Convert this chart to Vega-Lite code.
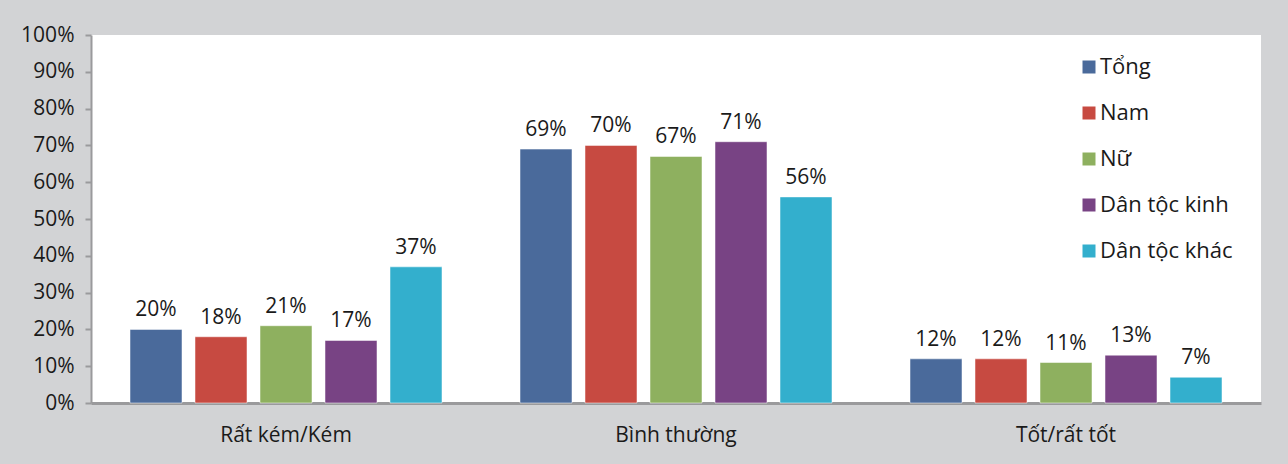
{
  "$schema": "https://vega.github.io/schema/vega-lite/v6.json",
  "width": 1170,
  "height": 368,
  "autosize": {"type": "none"},
  "padding": {"left": 91, "top": 35, "right": 27, "bottom": 61},
  "background": "#d2d3d5",
  "config": {
    "view": {"fill": "#ffffff", "stroke": null},
    "font": "Open Sans"
  },
  "data": {
    "values": [
      {"nhom": "Rất kém/Kém", "doi_tuong": "Tổng", "ty_le": 20},
      {"nhom": "Rất kém/Kém", "doi_tuong": "Nam", "ty_le": 18},
      {"nhom": "Rất kém/Kém", "doi_tuong": "Nữ", "ty_le": 21},
      {"nhom": "Rất kém/Kém", "doi_tuong": "Dân tộc kinh", "ty_le": 17},
      {"nhom": "Rất kém/Kém", "doi_tuong": "Dân tộc khác", "ty_le": 37},
      {"nhom": "Bình thường", "doi_tuong": "Tổng", "ty_le": 69},
      {"nhom": "Bình thường", "doi_tuong": "Nam", "ty_le": 70},
      {"nhom": "Bình thường", "doi_tuong": "Nữ", "ty_le": 67},
      {"nhom": "Bình thường", "doi_tuong": "Dân tộc kinh", "ty_le": 71},
      {"nhom": "Bình thường", "doi_tuong": "Dân tộc khác", "ty_le": 56},
      {"nhom": "Tốt/rất tốt", "doi_tuong": "Tổng", "ty_le": 12},
      {"nhom": "Tốt/rất tốt", "doi_tuong": "Nam", "ty_le": 12},
      {"nhom": "Tốt/rất tốt", "doi_tuong": "Nữ", "ty_le": 11},
      {"nhom": "Tốt/rất tốt", "doi_tuong": "Dân tộc kinh", "ty_le": 13},
      {"nhom": "Tốt/rất tốt", "doi_tuong": "Dân tộc khác", "ty_le": 7}
    ]
  },
  "encoding": {
    "x": {
      "field": "nhom",
      "type": "nominal",
      "sort": ["Rất kém/Kém", "Bình thường", "Tốt/rất tốt"],
      "scale": {"paddingInner": 0, "paddingOuter": 0},
      "axis": {
        "title": null,
        "labelAngle": 0,
        "ticks": false,
        "domainColor": "#9a9a9c",
        "domainWidth": 3,
        "labelFontSize": 21,
        "labelColor": "#1a1a1a",
        "labelPadding": 21
      }
    },
    "xOffset": {
      "field": "doi_tuong",
      "type": "nominal",
      "sort": ["Tổng", "Nam", "Nữ", "Dân tộc kinh", "Dân tộc khác"],
      "scale": {"paddingInner": 0.2, "paddingOuter": 0.6}
    },
    "y": {
      "field": "ty_le",
      "type": "quantitative",
      "scale": {"domain": [0, 100]},
      "axis": {
        "title": null,
        "tickCount": 10,
        "grid": false,
        "labelExpr": "datum.value + '%'",
        "domainColor": "#9a9a9c",
        "domainWidth": 2,
        "tickColor": "#9a9a9c",
        "tickWidth": 2,
        "tickSize": 6,
        "labelFontSize": 21,
        "labelColor": "#1a1a1a",
        "labelPadding": 11
      }
    }
  },
  "layer": [
    {
      "mark": {"type": "bar", "stroke": "#ffffff", "strokeOpacity": 0.5, "strokeWidth": 1},
      "encoding": {
        "color": {
          "field": "doi_tuong",
          "type": "nominal",
          "sort": ["Tổng", "Nam", "Nữ", "Dân tộc kinh", "Dân tộc khác"],
          "scale": {
            "domain": ["Tổng", "Nam", "Nữ", "Dân tộc kinh", "Dân tộc khác"],
            "range": ["#4a6a9b", "#c74a41", "#8eb05f", "#784384", "#33afcd"]
          },
          "legend": {
            "title": null,
            "orient": "none",
            "legendX": 987,
            "legendY": 21,
            "symbolType": "square",
            "symbolSize": 169,
            "symbolStrokeWidth": 0,
            "labelFontSize": 22,
            "labelColor": "#1a1a1a",
            "labelOffset": 0,
            "rowPadding": 24,
            "labelLimit": 300
          }
        }
      }
    },
    {
      "mark": {
        "type": "text",
        "baseline": "alphabetic",
        "dy": -13,
        "fontSize": 21,
        "color": "#1a1a1a",
        "text": {"expr": "datum.ty_le + '%'"}
      }
    }
  ]
}
